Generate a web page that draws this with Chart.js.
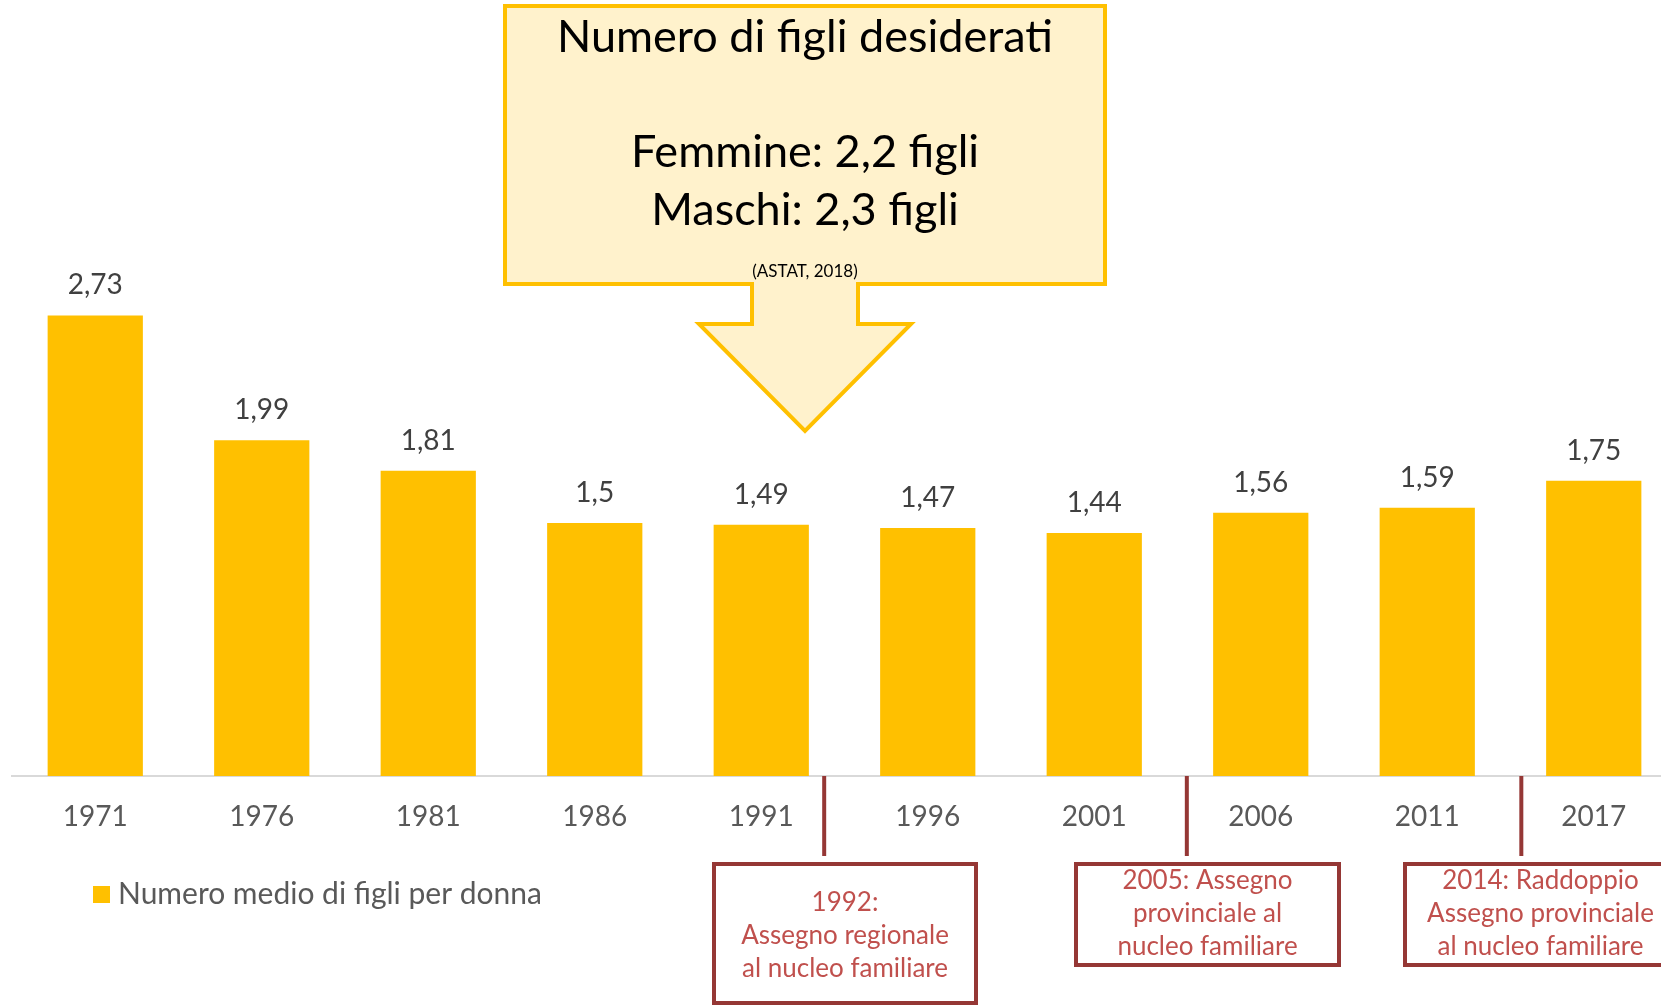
<!DOCTYPE html>
<html>
<head>
<meta charset="utf-8">
<script src="https://cdn.jsdelivr.net/npm/chart.js@4"></script>
<style>
  html, body { margin: 0; padding: 0; background: #fff; overflow: hidden; }
  #wrap { width: 1690px; height: 1005px; }
</style>
</head>
<body>
<div id="wrap"><canvas id="births-chart"></canvas></div>
<script>
// Data
const years = ['1971', '1976', '1981', '1986', '1991', '1996', '2001', '2006', '2011', '2017'];
const childrenPerWoman = [2.73, 1.99, 1.81, 1.5, 1.49, 1.47, 1.44, 1.56, 1.59, 1.75];
const seriesLabel = 'Numero medio di figli per donna';

// Callout text
const calloutTitle = 'Numero di figli desiderati';
const calloutLines = ['Femmine: 2,2 figli', 'Maschi: 2,3 figli'];
const calloutSource = '(ASTAT, 2018)';

// Policy notes below the axis
const policyNotes = [
  { at: 4.378, lines: ['1992:', 'Assegno regionale', 'al nucleo familiare'], box: [714, 864, 976, 1003], textY: 903 },
  { at: 6.556, lines: ['2005: Assegno', 'provinciale al', 'nucleo familiare'], box: [1076, 864, 1339, 965], textY: 881 },
  { at: 8.565, lines: ['2014: Raddoppio', 'Assegno provinciale', 'al nucleo familiare'], box: [1405, 864, 1700, 965], textY: 881 }
];

const gold = '#FFC000';
const fontFamily = 'Lato, "Open Sans", sans-serif';

const fmt = v => String(v).replace('.', ',');

const overlayPlugin = {
  id: 'overlay',
  afterDatasetsDraw(chart) {
    const ctx = chart.ctx;
    const meta = chart.getDatasetMeta(0);

    // value labels
    ctx.save();
    ctx.font = '28px ' + fontFamily;
    ctx.fillStyle = '#404040';
    ctx.textAlign = 'center';
    ctx.textBaseline = 'middle';
    meta.data.forEach((bar, i) => {
      ctx.fillText(fmt(childrenPerWoman[i]), bar.x, bar.y - 30);
    });
    ctx.restore();
  },
  afterDraw(chart) {
    const ctx = chart.ctx;
    const xScale = chart.scales.x;
    const base = chart.chartArea.bottom;

    // legend
    ctx.save();
    ctx.fillStyle = gold;
    ctx.fillRect(93, 886, 17, 17);
    ctx.font = '30px ' + fontFamily;
    ctx.fillStyle = '#595959';
    ctx.textBaseline = 'middle';
    ctx.fillText(seriesLabel, 118, 894);
    ctx.restore();

    // callout with arrow
    ctx.save();
    ctx.beginPath();
    ctx.moveTo(505, 6);
    ctx.lineTo(1105, 6);
    ctx.lineTo(1105, 284);
    ctx.lineTo(858, 284);
    ctx.lineTo(858, 324);
    ctx.lineTo(911, 324);
    ctx.lineTo(805, 431);
    ctx.lineTo(699, 324);
    ctx.lineTo(752, 324);
    ctx.lineTo(752, 284);
    ctx.lineTo(505, 284);
    ctx.closePath();
    ctx.fillStyle = '#FFF2CC';
    ctx.fill();
    ctx.lineWidth = 4;
    ctx.strokeStyle = gold;
    ctx.stroke();

    ctx.fillStyle = '#000';
    ctx.textAlign = 'center';
    ctx.textBaseline = 'middle';
    ctx.font = '45px ' + fontFamily;
    ctx.fillText(calloutTitle, 805, 37);
    ctx.fillText(calloutLines[0], 805, 152);
    ctx.fillText(calloutLines[1], 805, 210);
    ctx.font = '17px ' + fontFamily;
    ctx.fillText(calloutSource, 805, 272);
    ctx.restore();

    // policy notes
    ctx.save();
    policyNotes.forEach(note => {
      const lx = xScale.getPixelForValue(note.at);
      ctx.strokeStyle = '#953735';
      ctx.lineWidth = 4;
      ctx.beginPath();
      ctx.moveTo(lx, base);
      ctx.lineTo(lx, 856);
      ctx.stroke();

      const [x1, y1, x2, y2] = note.box;
      ctx.fillStyle = '#fff';
      ctx.fillRect(x1, y1, x2 - x1, y2 - y1);
      ctx.strokeRect(x1, y1, x2 - x1, y2 - y1);

      ctx.fillStyle = '#C0504D';
      ctx.font = '26px ' + fontFamily;
      ctx.textAlign = 'center';
      ctx.textBaseline = 'middle';
      const cx = (x1 + Math.min(x2, 1676)) / 2;
      note.lines.forEach((t, i) => ctx.fillText(t, cx, note.textY + i * 33));
    });
    ctx.restore();
  }
};

new Chart(document.getElementById('births-chart'), {
  type: 'bar',
  data: {
    labels: years,
    datasets: [{
      label: seriesLabel,
      data: childrenPerWoman,
      backgroundColor: gold,
      barPercentage: 0.572,
      categoryPercentage: 1
    }]
  },
  options: {
    responsive: true,
    maintainAspectRatio: false,
    animation: false,
    layout: { padding: { left: 12, right: 13, top: 0, bottom: 0 } },
    plugins: {
      legend: { display: false },
      tooltip: { enabled: false }
    },
    scales: {
      y: {
        display: false,
        min: 0,
        max: 4.6
      },
      x: {
        grid: { display: false, drawTicks: false },
        border: { display: true, color: '#D9D9D9', width: 2 },
        ticks: {
          color: '#595959',
          padding: 24,
          font: { family: fontFamily, size: 28 }
        },
        afterFit: scale => { scale.height = 229; }
      }
    }
  },
  plugins: [overlayPlugin]
});
</script>
</body>
</html>
